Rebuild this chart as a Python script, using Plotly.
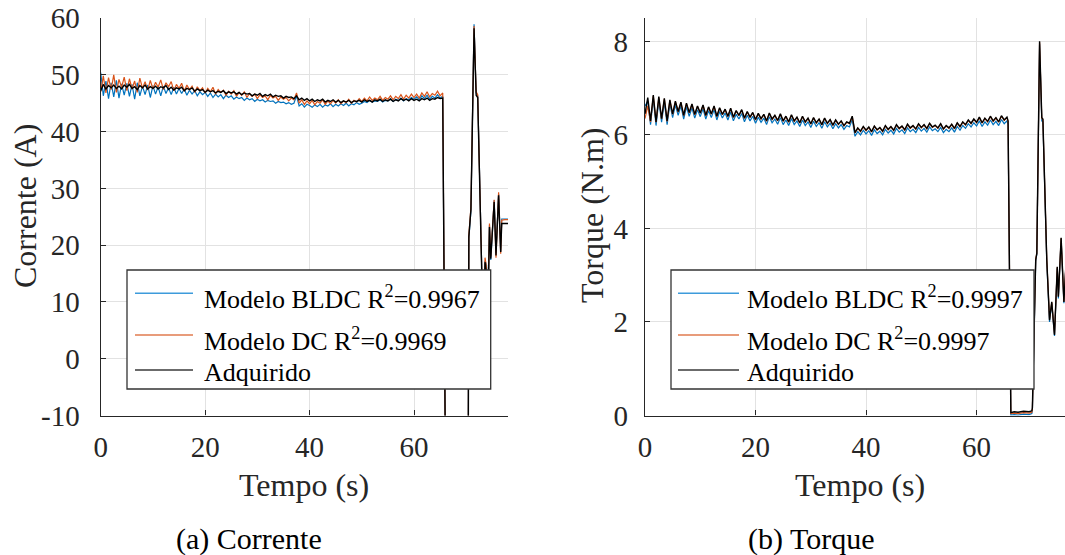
import plotly.graph_objects as go

FONT = "Liberation Serif, Times New Roman, Times, serif"
BLUE = "#0072BD"
ORANGE = "#D95319"
BLACK = "#000000"
AX = "#262626"
GRID = "#e2e2e2"

# ---------------- data ----------------
T_STEADY = [
    0, 0.5, 1, 1.5, 2, 2.5, 3, 3.5, 4, 4.5,
    5, 5.5, 6, 6.5, 7, 7.5, 8, 8.5, 9, 9.5,
    10, 10.5, 11, 11.5, 12, 12.5, 13, 13.5, 14, 14.5,
    15, 15.5, 16, 16.5, 17, 17.5, 18, 18.5, 19, 19.5,
    20, 20.5, 21, 21.5, 22, 22.5, 23, 23.5, 24, 24.5,
    25, 25.5, 26, 26.5, 27, 27.5, 28, 28.5, 29, 29.5,
    30, 30.5, 31, 31.5, 32, 32.5, 33, 33.5, 34, 34.5,
    35, 35.5, 36, 36.5, 37, 37.5, 38, 38.5, 39, 39.5,
    40, 40.5, 41, 41.5, 42, 42.5, 43, 43.5, 44, 44.5,
    45, 45.5, 46, 46.5, 47, 47.5, 48, 48.5, 49, 49.5,
    50, 50.5, 51, 51.5, 52, 52.5, 53, 53.5, 54, 54.5,
    55, 55.5, 56, 56.5, 57, 57.5, 58, 58.5, 59, 59.5,
    60, 60.5, 61, 61.5, 62, 62.5, 63, 63.5, 64, 64.5,
    65, 65.5,
]

# Corrente (A)
CUR_ADQ = [
    47.2, 48.3, 47.5, 48.1, 47.7, 48.2, 47.6, 48.0, 47.5, 48.2,
    47.8, 48.3, 47.6, 47.9, 47.4, 48.1, 47.7, 48.2, 47.5, 47.9,
    47.6, 48.0, 47.5, 47.9, 47.7, 48.1, 47.4, 47.8, 47.3, 47.7,
    47.5, 47.8, 47.2, 47.6, 47.4, 47.7, 47.1, 47.5, 47.2, 47.4,
    46.9, 47.3, 47.0, 47.2, 46.8, 47.1, 46.9, 47.2, 46.7, 47.0,
    46.8, 47.0, 46.6, 46.9, 46.5, 46.8, 46.6, 46.7, 46.3, 46.6,
    46.4, 46.7, 46.2, 46.5, 46.3, 46.6, 46.1, 46.4, 46.2, 46.3,
    45.9, 46.2, 46.0, 46.1, 45.8, 46.3, 45.6, 45.9, 45.5, 45.8,
    45.4, 45.7, 45.3, 45.6, 45.4, 45.7, 45.2, 45.5, 45.3, 45.6,
    45.2, 45.5, 45.1, 45.4, 45.2, 45.5, 45.1, 45.4, 45.3, 45.5,
    45.2, 45.6, 45.3, 45.5, 45.2, 45.6, 45.4, 45.7, 45.3, 45.6,
    45.4, 45.7, 45.3, 45.6, 45.4, 45.8, 45.5, 45.7, 45.4, 45.8,
    45.5, 45.7, 45.4, 45.8, 45.6, 45.9, 45.5, 45.8, 45.7, 46.0,
    45.8, 45.9,
]
CUR_DC = [
    47.0, 49.8, 46.8, 49.5, 47.4, 50.0, 46.9, 49.2, 47.8, 49.6,
    47.2, 49.3, 47.5, 48.9, 46.9, 49.4, 47.6, 48.8, 47.3, 49.0,
    47.5, 48.7, 47.8, 49.1, 47.4, 48.6, 47.9, 48.8, 47.2, 48.3,
    47.6, 48.5, 47.1, 48.2, 47.4, 48.0, 46.9, 47.9, 47.2, 47.7,
    46.8, 47.6, 47.0, 47.8, 46.6, 47.4, 46.9, 47.3, 46.4, 47.1,
    46.6, 47.2, 46.2, 46.9, 46.4, 47.0, 46.0, 46.7, 46.2, 46.6,
    45.8, 46.5, 46.0, 46.3, 45.6, 46.4, 45.9, 46.2, 45.5, 46.1,
    45.7, 46.0, 45.4, 45.9, 45.6, 46.8, 45.0, 45.6, 44.8, 45.4,
    44.9, 45.5, 44.7, 45.3, 45.0, 45.6, 44.8, 45.4, 44.9, 45.5,
    45.0, 45.6, 44.9, 45.4, 45.1, 45.7, 45.0, 45.5, 45.2, 45.8,
    45.3, 45.9, 45.4, 46.1, 45.5, 45.9, 45.6, 46.2, 45.5, 46.0,
    45.7, 46.3, 45.6, 46.2, 45.8, 46.5, 45.7, 46.4, 45.9, 46.6,
    46.0, 46.6, 45.9, 46.8, 46.2, 47.0, 46.1, 46.7, 46.4, 47.1,
    46.3, 46.8,
]
CUR_BLDC = [
    50.4, 46.3, 48.9, 45.8, 48.6, 46.1, 49.0, 45.9, 48.4, 46.4,
    48.5, 46.2, 48.3, 45.7, 48.6, 46.3, 48.0, 46.5, 48.2, 46.0,
    48.1, 46.6, 47.9, 46.3, 48.0, 46.7, 47.7, 46.5, 47.8, 46.6,
    47.6, 46.7, 47.5, 46.4, 47.3, 46.6, 47.2, 46.3, 47.0, 46.5,
    46.9, 46.2, 46.8, 46.0, 46.6, 46.1, 46.5, 45.8, 46.4, 46.0,
    46.3, 45.7, 46.1, 45.8, 46.0, 45.5, 45.9, 45.6, 45.8, 45.3,
    45.7, 45.4, 45.6, 45.2, 45.5, 45.3, 45.4, 45.0, 45.3, 45.1,
    45.2, 44.9, 45.1, 44.8, 45.0, 46.3, 44.5, 44.9, 44.3, 44.8,
    44.6, 44.3, 44.7, 44.4, 44.8, 44.3, 44.7, 44.5, 44.9, 44.4,
    44.8, 44.5, 44.9, 44.6, 45.0, 44.5, 44.9, 44.7, 45.1, 44.8,
    45.0, 45.3, 45.1, 45.5, 45.2, 45.4, 45.3, 45.6, 45.2, 45.5,
    45.4, 45.8, 45.3, 45.7, 45.5, 45.9, 45.4, 45.8, 45.6, 46.0,
    45.7, 46.1, 45.6, 46.3, 45.8, 46.4, 45.7, 46.2, 45.9, 46.5,
    45.9, 46.2,
]
T_CUR_TRANS = [66.0, 66.5, 67.5, 68.5, 69.5, 70.2, 70.4, 70.5, 70.9, 71.5,
               71.9, 72.2, 72.5, 72.7, 73.0, 73.3, 73.6, 73.9, 74.15, 74.45,
               74.7, 75.35, 75.7, 76.2, 76.6, 76.8, 77.4, 78.0]
CUR_ADQ_TRANS = [-16, -18, -18, -18, -18, -18, -13, 21.5, 26.3, 58.2,
                 46.4, 46.0, 34.0, 25.0, 14.0, 2.0, 17.0, 15.0, 8.0, 23.2,
                 17.6, 27.6, 18.2, 28.8, 18.8, 23.8, 23.8, 23.8]
CUR_DC_TRANS = [-16, -18, -18, -18, -18, -18, -13, 21.8, 26.6, 58.6,
                47.0, 46.5, 34.5, 25.3, 14.3, 2.5, 17.8, 16.0, 8.5, 23.8,
                18.0, 28.0, 17.8, 29.3, 18.5, 24.4, 24.5, 24.5]
CUR_BLDC_TRANS = [-16, -18, -18, -18, -18, -18, -13, 21.2, 26.0, 58.9,
                  46.8, 46.3, 34.8, 25.6, 14.6, 2.8, 17.2, 16.5, 8.2, 23.5,
                  17.4, 27.9, 18.6, 29.0, 18.9, 24.6, 24.6, 24.6]

# Torque (N.m)
TOR_ADQ = [
    6.45, 6.80, 6.30, 6.85, 6.28, 6.82, 6.35, 6.78, 6.30, 6.75,
    6.45, 6.72, 6.50, 6.70, 6.42, 6.68, 6.48, 6.66, 6.44, 6.62,
    6.47, 6.64, 6.42, 6.60, 6.45, 6.62, 6.40, 6.58, 6.44, 6.55,
    6.40, 6.57, 6.38, 6.52, 6.42, 6.54, 6.36, 6.50, 6.38, 6.48,
    6.33, 6.46, 6.35, 6.44, 6.30, 6.47, 6.34, 6.42, 6.31, 6.45,
    6.30, 6.40, 6.28, 6.43, 6.30, 6.38, 6.26, 6.40, 6.28, 6.36,
    6.24, 6.37, 6.26, 6.34, 6.22, 6.36, 6.25, 6.33, 6.21, 6.32,
    6.23, 6.30, 6.20, 6.28, 6.25, 6.40, 6.05, 6.15, 6.08, 6.18,
    6.10, 6.17, 6.07, 6.19, 6.11, 6.16, 6.08, 6.20, 6.12, 6.18,
    6.10, 6.22, 6.14, 6.19, 6.11, 6.23, 6.15, 6.20, 6.13, 6.24,
    6.16, 6.22, 6.14, 6.25, 6.17, 6.21, 6.15, 6.24, 6.13, 6.20,
    6.15, 6.23, 6.14, 6.26, 6.18, 6.28, 6.22, 6.32, 6.25, 6.34,
    6.27, 6.38, 6.26, 6.36, 6.29, 6.40, 6.30, 6.37, 6.28, 6.41,
    6.32, 6.38,
]
TOR_DC = [
    6.35, 6.62, 6.28, 6.83, 6.27, 6.80, 6.34, 6.77, 6.29, 6.74,
    6.44, 6.71, 6.49, 6.69, 6.41, 6.67, 6.47, 6.65, 6.43, 6.61,
    6.46, 6.63, 6.41, 6.59, 6.44, 6.61, 6.39, 6.57, 6.43, 6.54,
    6.39, 6.56, 6.37, 6.51, 6.41, 6.53, 6.35, 6.49, 6.37, 6.47,
    6.32, 6.45, 6.34, 6.43, 6.29, 6.46, 6.33, 6.41, 6.30, 6.44,
    6.29, 6.39, 6.27, 6.42, 6.29, 6.37, 6.25, 6.39, 6.27, 6.35,
    6.23, 6.36, 6.25, 6.33, 6.21, 6.35, 6.24, 6.32, 6.20, 6.31,
    6.22, 6.29, 6.19, 6.27, 6.24, 6.39, 6.04, 6.14, 6.07, 6.17,
    6.09, 6.16, 6.06, 6.18, 6.10, 6.15, 6.07, 6.19, 6.11, 6.17,
    6.09, 6.21, 6.13, 6.18, 6.10, 6.22, 6.14, 6.19, 6.12, 6.23,
    6.15, 6.21, 6.13, 6.24, 6.16, 6.20, 6.14, 6.23, 6.12, 6.19,
    6.14, 6.22, 6.13, 6.25, 6.17, 6.27, 6.21, 6.31, 6.24, 6.33,
    6.26, 6.37, 6.25, 6.35, 6.28, 6.39, 6.29, 6.36, 6.27, 6.40,
    6.31, 6.37,
]
TOR_BLDC = [
    6.62, 6.72, 6.22, 6.77, 6.20, 6.74, 6.27, 6.70, 6.22, 6.67,
    6.37, 6.64, 6.42, 6.62, 6.34, 6.60, 6.40, 6.58, 6.36, 6.54,
    6.39, 6.56, 6.34, 6.52, 6.37, 6.54, 6.32, 6.50, 6.36, 6.47,
    6.32, 6.49, 6.30, 6.44, 6.34, 6.46, 6.28, 6.42, 6.30, 6.40,
    6.25, 6.38, 6.27, 6.36, 6.22, 6.39, 6.26, 6.34, 6.23, 6.37,
    6.22, 6.32, 6.20, 6.35, 6.22, 6.30, 6.18, 6.32, 6.20, 6.28,
    6.16, 6.29, 6.18, 6.26, 6.14, 6.28, 6.17, 6.25, 6.13, 6.24,
    6.15, 6.22, 6.12, 6.20, 6.17, 6.33, 5.97, 6.07, 6.00, 6.10,
    6.02, 6.09, 5.99, 6.11, 6.03, 6.08, 6.00, 6.12, 6.04, 6.10,
    6.02, 6.14, 6.06, 6.11, 6.03, 6.15, 6.07, 6.12, 6.05, 6.16,
    6.08, 6.14, 6.06, 6.17, 6.09, 6.13, 6.07, 6.16, 6.05, 6.12,
    6.07, 6.15, 6.06, 6.18, 6.10, 6.20, 6.14, 6.24, 6.17, 6.26,
    6.19, 6.30, 6.18, 6.28, 6.21, 6.32, 6.22, 6.29, 6.20, 6.33,
    6.24, 6.30,
]
T_TOR_TRANS = [65.7, 66.2, 66.8, 67.5, 68.5, 69.5, 70.0, 70.1, 70.7, 70.9,
               71.4, 71.8, 72.0, 72.7, 73.2, 73.6, 74.1, 74.6, 74.8, 75.3,
               75.8, 76.3, 77.0, 78.0]
TOR_ADQ_TRANS = [6.30, 0.06, 0.08, 0.07, 0.09, 0.08, 0.10, 0.16, 3.33, 3.47,
                 8.00, 6.37, 6.34, 3.33, 2.04, 2.43, 1.72, 3.18, 2.54, 3.80,
                 2.43, 3.50, 3.00, 3.00]
TOR_DC_TRANS = [6.28, 0.04, 0.05, 0.04, 0.06, 0.05, 0.07, 0.14, 3.35, 3.46,
                7.98, 6.35, 6.33, 3.35, 2.06, 2.42, 1.74, 3.17, 2.55, 3.79,
                2.44, 3.49, 3.00, 3.00]
TOR_BLDC_TRANS = [6.22, 0.01, 0.02, 0.01, 0.03, 0.02, 0.04, 0.12, 3.30, 3.45,
                  7.95, 6.30, 6.28, 3.30, 2.00, 2.40, 1.70, 3.15, 2.50, 3.78,
                  2.40, 3.48, 3.00, 3.00]

LEG_CUR = ["Modelo BLDC R<sup>2</sup>=0.9967", "Modelo DC R<sup>2</sup>=0.9969", "Adquirido"]
LEG_TOR = ["Modelo BLDC R<sup>2</sup>=0.9997", "Modelo DC R<sup>2</sup>=0.9997", "Adquirido"]
X_TICKS = [0, 20, 40, 60]
CUR_TICKS = [-10, 0, 10, 20, 30, 40, 50, 60]
CUR_TICK_LABELS = ["-10", "0", "10", "20", "30", "40", "50", "60"]
TOR_TICKS = [0, 2, 4, 6, 8]

# ---------------- figure ----------------
W, H = 1065, 555


def px(x):
    return x / W


def py(y):
    return 1 - y / H


fig = go.Figure()

t_cur = T_STEADY + T_CUR_TRANS
t_tor = T_STEADY + T_TOR_TRANS
for ys, col, wd in [(CUR_BLDC + CUR_BLDC_TRANS, BLUE, 1.2),
                    (CUR_DC + CUR_DC_TRANS, ORANGE, 1.2),
                    (CUR_ADQ + CUR_ADQ_TRANS, BLACK, 1.4)]:
    fig.add_trace(go.Scatter(x=t_cur, y=ys, mode="lines", line=dict(color=col, width=wd),
                             xaxis="x", yaxis="y", showlegend=False, hoverinfo="skip"))
for ys, col, wd in [(TOR_BLDC + TOR_BLDC_TRANS, BLUE, 1.2),
                    (TOR_DC + TOR_DC_TRANS, ORANGE, 1.2),
                    (TOR_ADQ + TOR_ADQ_TRANS, BLACK, 1.4)]:
    fig.add_trace(go.Scatter(x=t_tor, y=ys, mode="lines", line=dict(color=col, width=wd),
                             xaxis="x2", yaxis="y2", showlegend=False, hoverinfo="skip"))

tickfont = dict(family=FONT, size=29, color=AX)
common = dict(showgrid=True, gridcolor=GRID, gridwidth=1, showline=True, linecolor=AX,
              linewidth=1.3, ticks="inside", ticklen=5, tickwidth=1.2, tickcolor=AX,
              zeroline=False, tickfont=tickfont, mirror=False, automargin=False)

ydom = [py(415.5), py(18)]
fig.update_layout(
    width=W, height=H, margin=dict(l=0, r=0, t=0, b=0, pad=0, autoexpand=False),
    paper_bgcolor="white", plot_bgcolor="white",
    xaxis=dict(domain=[px(100.7), px(508)], range=[0, 78], tickvals=X_TICKS,
               anchor="y", ticklabelstandoff=6, **common),
    yaxis=dict(domain=ydom, range=[-10, 60], tickvals=CUR_TICKS, ticktext=CUR_TICK_LABELS,
               anchor="x", ticklabelstandoff=14, **common),
    xaxis2=dict(domain=[px(645), 1.0], range=[0, 76], tickvals=X_TICKS,
                anchor="y2", ticklabelstandoff=6, **common),
    yaxis2=dict(domain=ydom, range=[0, 8.5], tickvals=TOR_TICKS,
                anchor="x2", ticklabelstandoff=10, **common),
)

ann = []
titlefont = dict(family=FONT, size=32, color=AX)
ann.append(dict(text="Tempo (s)", x=px(304), y=py(485), font=titlefont))
ann.append(dict(text="Tempo (s)", x=px(860), y=py(485), font=titlefont))
ann.append(dict(text="Corrente (A)", x=px(25), y=py(206), textangle=-90, font=titlefont))
ann.append(dict(text="Torque (N.m)", x=px(592), y=py(216), textangle=-90, font=titlefont))
capfont = dict(family=FONT, size=30, color="#000000")
ann.append(dict(text="(a) Corrente", x=px(249), y=py(539), font=capfont))
ann.append(dict(text="(b) Torque", x=px(811), y=py(539), font=capfont))

shapes = []
legfont = dict(family=FONT, size=26, color="#000000")
sample_cols = ["#3d9bdb", "#e07b4f", "#3a3a3a"]
line_rows = [293.3, 335, 370]
base_rows = [309, 350.5, 381.5]
for (bx0, bx1, lx0, lx1, tx, labels) in [(127, 490.7, 135, 193, 201.7, LEG_CUR),
                                          (671, 1034, 678, 739, 745, LEG_TOR)]:
    shapes.append(dict(type="rect", xref="paper", yref="paper", x0=px(bx0), x1=px(bx1),
                       y0=py(389), y1=py(270), fillcolor="white",
                       line=dict(color="#333333", width=1.3), layer="above"))
    for i, lab in enumerate(labels):
        shapes.append(dict(type="line", xref="paper", yref="paper", x0=px(lx0), x1=px(lx1),
                           y0=py(line_rows[i]), y1=py(line_rows[i]),
                           line=dict(color=sample_cols[i], width=1.4), layer="above"))
        ann.append(dict(text=lab, x=px(tx), y=py(base_rows[i] + 7), xanchor="left",
                        yanchor="bottom", font=legfont))

for a in ann:
    a.setdefault("xref", "paper")
    a.setdefault("yref", "paper")
    a.setdefault("showarrow", False)
    a.setdefault("xanchor", "center")
    a.setdefault("yanchor", "middle")

fig.update_layout(annotations=ann, shapes=shapes)
fig.write_html(
    "out.html",
    config={"displayModeBar": False},
    post_script="document.body.style.margin='0';document.body.style.padding='0';"
                "document.body.style.overflow='hidden';",
)
